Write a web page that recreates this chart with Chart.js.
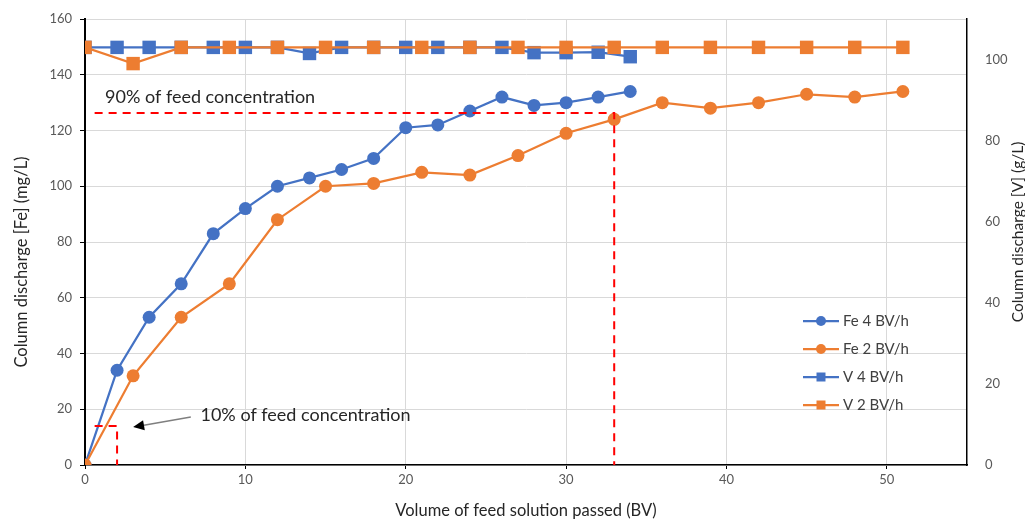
<!DOCTYPE html>
<html>
<head>
<meta charset="utf-8">
<script src="https://cdn.jsdelivr.net/npm/chart.js@4.4.0/dist/chart.umd.min.js"></script>
<style>
  html, body { margin: 0; padding: 0; background: #fff; }
</style>
</head>
<body>
<canvas id="chart" width="1025" height="521"></canvas>
<script>
// bed volumes and readings
const bvFast = [0, 2, 4, 6, 8, 10, 12, 14, 16, 18, 20, 22, 24, 26, 28, 30, 32, 34];
const bvSlow = [0, 3, 6, 9, 12, 15, 18, 21, 24, 27, 30, 33, 36, 39, 42, 45, 48, 51];

const fe4 = [0, 34, 53, 65, 83, 92, 100, 103, 106, 110, 121, 122, 127, 132, 129, 130, 132, 134];
const fe2 = [0, 32, 53, 65, 88, 100, 101, 105, 104, 111, 119, 124, 130, 128, 130, 133, 132, 134];
const v4 = [103, 103, 103, 103, 103, 103, 103, 101.5, 103, 103, 103, 103, 103, 103, 101.7, 101.7, 101.8, 100.7];
const v2 = [103, 99, 103, 103, 103, 103, 103, 103, 103, 103, 103, 103, 103, 103, 103, 103, 103, 103];

const seriesNames = ['Fe 4 BV/h', 'Fe 2 BV/h', 'V 4 BV/h', 'V 2 BV/h'];

// guide lines (x in BV, y in mg/L)
const guide90x = [0.6, 33, 33];
const guide90y = [126.3, 126.3, 0];
const guide10x = [0.6, 2, 2];
const guide10y = [14, 14, 0];

const xTicks = [0, 10, 20, 30, 40, 50];
const feTicks = [0, 20, 40, 60, 80, 100, 120, 140, 160];
const vTicks = [0, 20, 40, 60, 80, 100];

const BLUE = '#4472C4';
const ORANGE = '#ED7D31';
const RED = '#FF0000';
const FONT = 'Lato, "Open Sans", sans-serif';

const pts = (xs, ys) => xs.map((x, i) => ({ x: x, y: ys[i] }));

const notes = {
    id: 'notes',
    afterDatasetsDraw(chart) {
        const { ctx, scales: { x, y } } = chart;
        ctx.save();
        ctx.font = '18px ' + FONT;
        ctx.fillStyle = '#262626';
        ctx.textBaseline = 'middle';
        ctx.fillText('90% of feed concentration', x.getPixelForValue(1.25), y.getPixelForValue(131.9));
        ctx.fillText('10% of feed concentration', x.getPixelForValue(7.2), y.getPixelForValue(17.9));

        // arrow to the 10% box
        const x1 = x.getPixelForValue(6.6), y1 = y.getPixelForValue(17.2);
        const x2 = x.getPixelForValue(3.0), y2 = y.getPixelForValue(13.6);
        const a = Math.atan2(y2 - y1, x2 - x1);
        ctx.strokeStyle = '#7f7f7f';
        ctx.lineWidth = 1.5;
        ctx.beginPath();
        ctx.moveTo(x1, y1);
        ctx.lineTo(x2 - 8 * Math.cos(a), y2 - 8 * Math.sin(a));
        ctx.stroke();
        ctx.fillStyle = '#000';
        ctx.beginPath();
        ctx.moveTo(x2, y2);
        ctx.lineTo(x2 - 11 * Math.cos(a) + 5 * Math.sin(a), y2 - 11 * Math.sin(a) - 5 * Math.cos(a));
        ctx.lineTo(x2 - 11 * Math.cos(a) - 5 * Math.sin(a), y2 - 11 * Math.sin(a) + 5 * Math.cos(a));
        ctx.closePath();
        ctx.fill();

        // legend
        const colors = [BLUE, ORANGE, BLUE, ORANGE];
        ctx.font = '15px ' + FONT;
        ctx.textBaseline = 'middle';
        seriesNames.forEach((name, i) => {
            const ly = 321 + i * 28;
            ctx.strokeStyle = colors[i];
            ctx.fillStyle = colors[i];
            ctx.lineWidth = 2.25;
            ctx.beginPath();
            ctx.moveTo(803, ly);
            ctx.lineTo(839, ly);
            ctx.stroke();
            ctx.beginPath();
            if (i < 2) {
                ctx.arc(821, ly, 5, 0, Math.PI * 2);
            } else {
                ctx.rect(816.5, ly - 4.5, 9, 9);
            }
            ctx.fill();
            ctx.fillStyle = '#404040';
            ctx.fillText(name, 843, ly);
        });
        ctx.restore();
    },
    afterDraw(chart) {
        const { ctx, chartArea } = chart;
        const mid = (chartArea.top + chartArea.bottom) / 2;
        ctx.save();
        ctx.font = '16.5px ' + FONT;
        ctx.fillStyle = '#262626';
        ctx.textAlign = 'center';
        ctx.textBaseline = 'middle';
        ctx.translate(22, mid + 20);
        ctx.rotate(-Math.PI / 2);
        ctx.fillText('Column discharge [Fe] (mg/L)', 0, 0);
        ctx.restore();

        ctx.save();
        ctx.font = '15.5px ' + FONT;
        ctx.fillStyle = '#262626';
        ctx.textAlign = 'center';
        ctx.textBaseline = 'middle';
        ctx.translate(1018, mid - 10);
        ctx.rotate(-Math.PI / 2);
        ctx.fillText('Column discharge [V] (g/L)', 0, 0);
        ctx.restore();
    }
};

const guideStyle = {
    borderColor: RED,
    borderWidth: 2,
    borderDash: [8, 6],
    pointRadius: 0,
    showLine: true,
    fill: false,
    yAxisID: 'y',
    order: 0
};

new Chart(document.getElementById('chart'), {
    type: 'scatter',
    data: {
        datasets: [
            {
                label: seriesNames[0],
                data: pts(bvFast, fe4),
                showLine: true,
                borderColor: BLUE,
                backgroundColor: BLUE,
                borderWidth: 2.25,
                pointRadius: 6.5,
                pointBorderWidth: 0,
                yAxisID: 'y',
                order: 4
            },
            {
                label: seriesNames[1],
                data: pts(bvSlow, fe2),
                showLine: true,
                borderColor: ORANGE,
                backgroundColor: ORANGE,
                borderWidth: 2.25,
                pointRadius: 6.5,
                pointBorderWidth: 0,
                yAxisID: 'y',
                order: 3
            },
            {
                label: seriesNames[2],
                data: pts(bvFast, v4),
                showLine: true,
                borderColor: BLUE,
                backgroundColor: BLUE,
                borderWidth: 2.25,
                pointStyle: 'rect',
                pointRadius: 9.5,
                pointBorderWidth: 0,
                yAxisID: 'y1',
                order: 2
            },
            {
                label: seriesNames[3],
                data: pts(bvSlow, v2),
                showLine: true,
                borderColor: ORANGE,
                backgroundColor: ORANGE,
                borderWidth: 2.25,
                pointStyle: 'rect',
                pointRadius: 9.5,
                pointBorderWidth: 0,
                yAxisID: 'y1',
                order: 1
            },
            Object.assign({ label: '90%', data: pts(guide90x, guide90y) }, guideStyle),
            Object.assign({ label: '10%', data: pts(guide10x, guide10y) }, guideStyle)
        ]
    },
    options: {
        responsive: false,
        animation: false,
        layout: {
            padding: { top: 19, left: 0, right: 0, bottom: 0 }
        },
        plugins: {
            legend: { display: false },
            tooltip: { enabled: false }
        },
        scales: {
            x: {
                type: 'linear',
                min: 0,
                max: 55,
                afterFit: (s) => { s.height = 56; },
                afterBuildTicks: (s) => { s.ticks = xTicks.map(v => ({ value: v })); },
                grid: {
                    color: '#d9d9d9',
                    tickColor: '#000',
                    tickLength: 4
                },
                border: { color: '#000', width: 1.5 },
                ticks: {
                    color: '#595959',
                    padding: 3,
                    font: { family: FONT, size: 13 }
                },
                title: {
                    display: true,
                    text: 'Volume of feed solution passed (BV)',
                    color: '#262626',
                    padding: { top: 0, bottom: 0 },
                    font: { family: FONT, size: 16.5 }
                }
            },
            y: {
                type: 'linear',
                position: 'left',
                min: 0,
                max: 160,
                afterFit: (s) => { s.width = 85; },
                afterBuildTicks: (s) => { s.ticks = feTicks.map(v => ({ value: v })); },
                grid: {
                    color: '#d9d9d9',
                    tickColor: '#000',
                    tickLength: 5
                },
                border: { color: '#000', width: 2 },
                ticks: {
                    color: '#595959',
                    padding: 8,
                    font: { family: FONT, size: 13 }
                }
            },
            y1: {
                type: 'linear',
                position: 'right',
                min: 0,
                max: 110,
                afterFit: (s) => { s.width = 58; },
                afterBuildTicks: (s) => { s.ticks = vTicks.map(v => ({ value: v })); },
                grid: {
                    drawOnChartArea: false,
                    tickLength: 13,
                    tickColor: 'rgba(0,0,0,0)'
                },
                border: { color: '#000', width: 1.5 },
                ticks: {
                    color: '#595959',
                    padding: 5,
                    font: { family: FONT, size: 13 }
                }
            }
        }
    },
    plugins: [notes]
});
</script>
</body>
</html>
